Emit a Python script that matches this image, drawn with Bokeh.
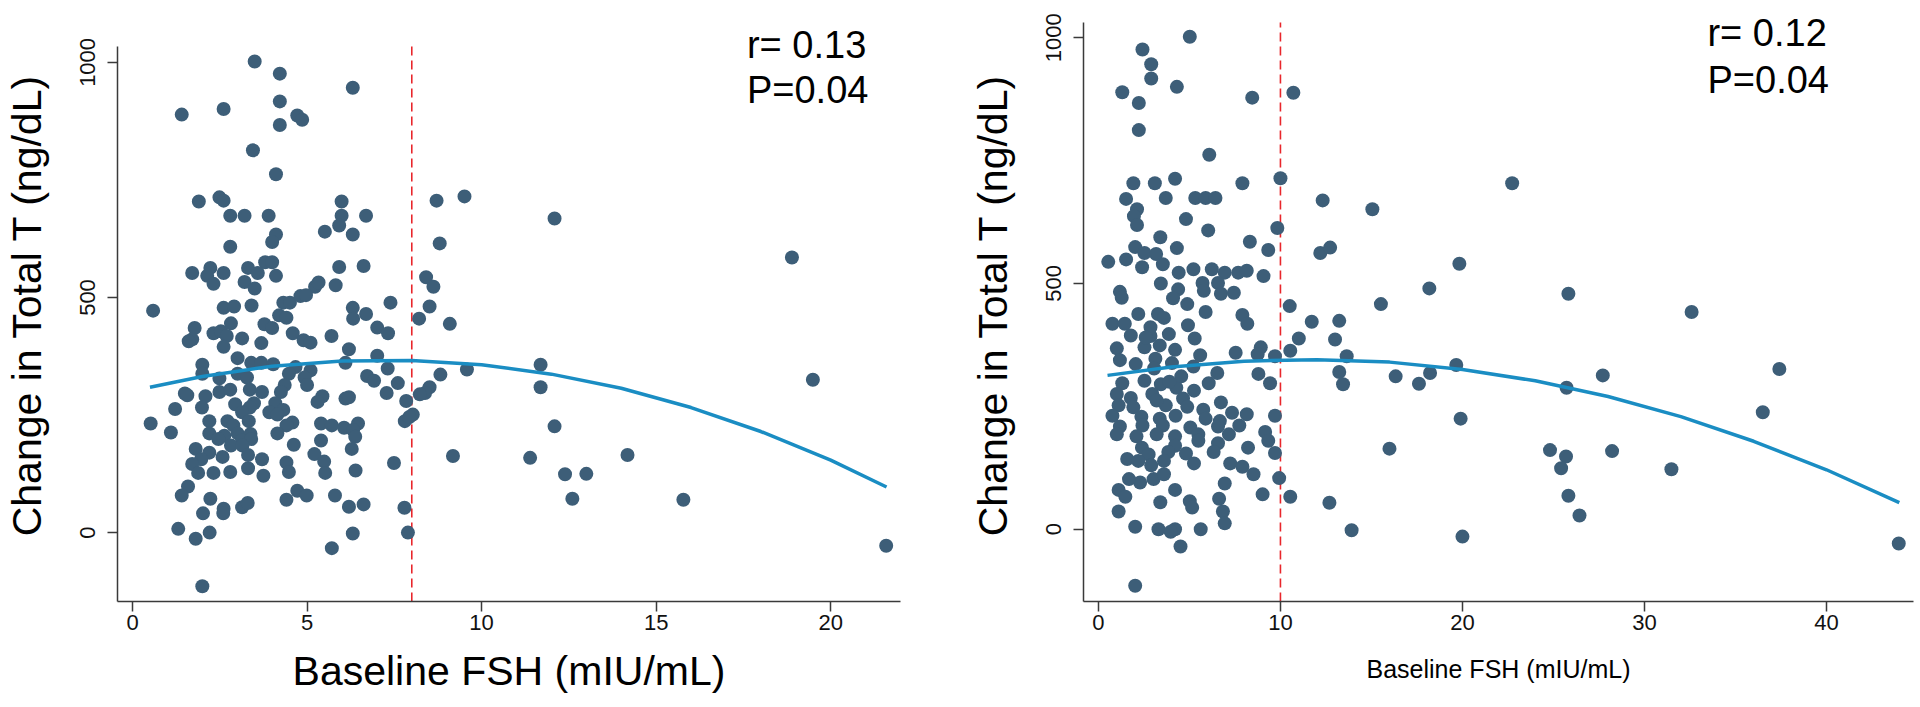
from bokeh.plotting import figure
from bokeh.models import Label, FixedTicker
from bokeh.layouts import row
from bokeh.embed import file_html
from bokeh.resources import INLINE

# ---------------- data ----------------
# Left panel: baseline FSH (mIU/mL) vs change in total T (ng/dL)
left_points = [
    (3.5, 1002), (4.22, 976), (6.31, 946), (1.41, 889), (2.61, 901), (4.22, 917), (4.72, 887), (4.86, 878),
    (4.22, 867), (3.45, 813), (4.11, 762), (1.90, 704), (2.49, 713), (2.61, 706), (5.99, 704), (8.71, 706),
    (9.51, 715), (2.80, 674), (3.21, 674), (3.90, 674), (5.99, 674), (6.69, 674), (12.09, 668), (5.92, 653),
    (5.51, 640), (6.31, 634), (4.11, 634), (4.0, 618), (8.80, 615), (2.80, 608), (18.89, 585), (3.80, 575),
    (4.0, 575), (3.31, 563), (2.23, 563), (1.71, 552), (2.61, 552), (3.59, 552), (4.11, 546), (5.92, 565),
    (6.62, 567), (2.14, 546), (2.32, 529), (3.21, 533), (3.5, 519), (5.23, 523), (5.33, 532), (5.82, 526),
    (8.41, 543), (8.62, 523), (0.59, 472), (2.61, 478), (2.91, 481), (3.41, 483), (4.32, 489), (4.51, 489),
    (4.81, 503), (4.97, 505), (6.31, 478), (6.69, 465), (7.39, 489), (8.51, 481), (8.21, 455), (9.09, 444),
    (4.20, 462), (4.41, 457), (6.32, 455), (7.01, 436), (7.32, 424), (1.78, 435), (1.71, 411), (1.61, 407),
    (2.32, 424), (2.53, 428), (2.82, 445), (2.70, 418), (3.14, 413), (3.78, 443), (4.0, 435), (4.59, 424),
    (4.90, 409), (5.10, 404), (5.70, 418), (3.69, 403), (2.61, 395), (6.20, 390), (3.01, 371), (7.01, 376),
    (6.10, 361), (7.31, 349), (9.58, 347), (11.69, 357), (3.40, 361), (3.69, 361), (4.03, 358), (4.67, 352),
    (5.10, 345), (2.0, 357), (2.0, 338), (3.01, 338), (3.28, 330), (2.49, 328), (4.48, 338), (4.93, 330),
    (6.72, 333), (6.92, 323), (8.82, 336), (7.60, 318), (19.49, 325), (11.69, 309), (4.36, 314), (5.0, 314),
    (2.49, 299), (2.80, 304), (3.36, 304), (3.71, 299), (4.25, 299), (7.28, 297), (1.50, 296), (1.57, 292),
    (2.09, 290), (5.44, 290), (6.10, 285), (6.20, 288), (8.51, 309), (8.38, 297), (8.23, 294), (7.84, 280),
    (2.94, 273), (3.48, 275), (4.09, 275), (5.30, 278), (1.99, 266), (1.22, 263), (3.36, 266), (4.32, 261),
    (3.14, 256), (3.92, 256), (8.03, 251), (4.15, 251), (0.52, 232), (2.20, 237), (2.72, 237), (3.33, 237),
    (4.58, 234), (5.40, 232), (5.71, 228), (6.46, 232), (7.80, 237), (7.93, 246), (4.41, 228), (2.89, 228),
    (12.09, 226), (1.10, 213), (2.20, 211), (2.63, 206), (3.01, 211), (3.38, 210), (4.15, 211), (6.06, 223),
    (6.32, 218), (6.38, 204), (2.46, 199), (3.14, 196), (3.40, 199), (5.40, 196), (2.82, 185), (3.15, 185),
    (4.62, 187), (6.28, 178), (1.81, 178), (2.20, 170), (1.97, 156), (1.71, 146), (2.58, 161), (3.31, 165),
    (5.21, 167), (9.18, 163), (11.39, 159), (14.18, 165), (3.71, 156), (7.49, 148), (4.41, 149), (5.49, 151),
    (1.88, 127), (2.32, 127), (2.80, 129), (3.31, 137), (4.48, 129), (5.52, 127), (6.39, 132), (3.75, 121),
    (12.39, 124), (13.0, 125), (1.59, 98), (1.41, 79), (2.23, 72), (4.72, 89), (4.99, 79), (5.80, 79),
    (4.41, 70), (12.60, 72), (15.78, 70), (3.14, 54), (3.30, 63), (2.61, 51), (2.60, 41), (6.20, 55),
    (6.62, 60), (7.79, 53), (2.02, 41), (1.31, 8), (2.21, 0), (1.81, -13), (6.31, -2), (7.89, 0),
    (5.71, -33), (21.59, -28), (2.0, -114),
]

# Right panel
right_points = [
    (5.02, 1002), (2.42, 976), (2.90, 946), (2.90, 917), (1.31, 889), (4.31, 900), (2.22, 867), (10.71, 888),
    (8.45, 878), (2.22, 812), (6.09, 762), (10.0, 714), (4.21, 713), (1.92, 704), (3.10, 704), (7.91, 704),
    (22.73, 704), (3.70, 674), (5.32, 674), (5.89, 674), (6.43, 674), (1.52, 672), (12.32, 669), (2.12, 651),
    (15.05, 651), (1.95, 637), (2.12, 619), (4.81, 631), (6.03, 608), (9.83, 613), (3.40, 594), (8.32, 585),
    (2.02, 574), (4.31, 572), (9.33, 568), (12.19, 562), (12.73, 573), (2.53, 562), (3.17, 560), (0.54, 544),
    (1.52, 549), (2.40, 533), (3.54, 539), (4.41, 522), (5.22, 529), (6.23, 529), (6.94, 522), (7.68, 522),
    (8.15, 526), (9.07, 515), (19.83, 540), (3.43, 500), (5.72, 501), (6.57, 501), (18.18, 490), (25.82, 479),
    (1.18, 483), (1.28, 471), (4.38, 488), (5.79, 485), (6.73, 479), (7.44, 481), (15.52, 458), (10.51, 454),
    (4.88, 458), (5.89, 442), (32.59, 442), (0.77, 418), (1.45, 418), (2.19, 438), (3.27, 438), (7.91, 436),
    (8.18, 418), (4.92, 415), (11.72, 422), (13.23, 424), (1.78, 394), (2.86, 393), (3.87, 397), (5.29, 388),
    (11.01, 388), (13.0, 386), (1.01, 368), (2.53, 370), (3.37, 374), (4.21, 365), (7.54, 359), (8.92, 370),
    (10.54, 363), (13.64, 352), (1.18, 344), (3.13, 347), (4.04, 338), (5.59, 354), (8.75, 356), (9.70, 352),
    (2.05, 336), (5.22, 331), (6.53, 318), (19.66, 334), (37.41, 326), (13.23, 320), (8.79, 316), (9.43, 297),
    (27.71, 313), (16.33, 311), (18.22, 318), (13.44, 295), (17.61, 296), (25.72, 288), (1.31, 297), (2.53, 302),
    (3.43, 295), (4.28, 288), (6.06, 297), (5.25, 282), (1.01, 275), (1.78, 267), (2.96, 275), (4.65, 266),
    (6.73, 258), (1.11, 252), (1.92, 248), (3.70, 252), (4.88, 249), (5.76, 243), (7.34, 237), (0.77, 231),
    (2.36, 229), (3.37, 225), (4.24, 231), (5.89, 225), (6.67, 220), (8.15, 234), (9.70, 231), (36.5, 238),
    (1.18, 209), (2.42, 211), (3.54, 211), (5.05, 207), (6.57, 209), (7.74, 211), (19.9, 225), (2.09, 189),
    (3.20, 193), (5.49, 193), (7.17, 193), (9.16, 198), (1.01, 193), (4.21, 189), (2.39, 166), (4.21, 170),
    (5.49, 180), (6.57, 175), (8.22, 166), (9.33, 180), (15.99, 164), (24.81, 161), (28.22, 159), (3.84, 157),
    (2.76, 152), (4.81, 154), (6.33, 157), (9.70, 155), (25.69, 148), (1.58, 143), (2.19, 139), (3.60, 139),
    (5.25, 134), (7.24, 134), (2.90, 130), (7.91, 127), (8.52, 112), (25.42, 124), (31.48, 122), (1.11, 80),
    (2.29, 95), (1.68, 102), (3.03, 102), (3.60, 112), (4.21, 80), (6.94, 93), (9.93, 104), (1.48, 66),
    (1.11, 36), (3.40, 55), (5.02, 57), (5.15, 44), (6.63, 62), (6.84, 36), (6.94, 12), (9.02, 71),
    (10.54, 66), (12.69, 54), (25.82, 68), (26.43, 28), (2.02, 5), (3.30, 0), (4.21, 0), (5.62, 0),
    (3.97, -5), (4.51, -35), (13.91, -2), (20.0, -15), (43.97, -29), (2.02, -115),
    (2.86, 411), (3.06, 327), (4.55, 311), (3.6, 430), (2.6, 390), (3.9, 300), (4.1, 470), (3.2, 262),
]

# Fitted quadratic curves
left_curve_x = [0.5, 2, 4, 6, 8, 10, 12, 14, 16, 18, 20, 21.6]
left_curve_y = [309, 332, 354, 365, 366, 357, 337, 307, 266, 215, 154, 97]
right_curve_x = [0.5, 4, 8, 12, 16, 20, 24, 28, 32, 36, 40, 44]
right_curve_y = [313, 330, 342, 345, 340, 325, 302, 270, 229, 179, 121, 54]

left_cutoff = 8
right_cutoff = 10
left_xticks = [0, 5, 10, 15, 20]
right_xticks = [0, 10, 20, 30, 40]
yticks = [0, 500, 1000]
left_stats = ["r= 0.13", "P=0.04"]
right_stats = ["r= 0.12", "P=0.04"]
x_title = "Baseline FSH (mIU/mL)"
y_title = "Change in Total T (ng/dL)"

# ---------------- styling ----------------
FONT = "Liberation Sans"
DOT = "#3d5e78"
CURVE = "#1a8dc3"
RED = "#e8262b"
AXIS = "#3a3a3a"


def panel(points, cx, cy, cut, width, xr, yr, ybounds, xticks, borders,
          xlab_size, xlab_standoff, stats, stats_xy):
    p = figure(width=width, height=705, x_range=xr, y_range=yr,
               output_backend="svg", toolbar_location=None,
               min_border_left=borders[0], min_border_right=borders[1],
               min_border_top=borders[2], min_border_bottom=borders[3])
    p.outline_line_color = None
    p.grid.visible = False
    p.background_fill_color = "white"

    # vertical dashed cut-off line spanning the plotted y-axis extent
    p.segment(x0=[cut], y0=[ybounds[0]], x1=[cut], y1=[ybounds[1]],
              line_color=RED, line_dash="9 5", line_width=1.6)
    xs = [pt[0] for pt in points]
    ys = [pt[1] for pt in points]
    p.scatter(xs, ys, size=14, fill_color=DOT, line_color=None)
    p.line(cx, cy, line_color=CURVE, line_width=3.5)

    for ax in (p.xaxis[0], p.yaxis[0]):
        ax.axis_line_color = AXIS
        ax.axis_line_width = 1.5
        ax.major_tick_line_color = AXIS
        ax.major_tick_line_width = 1.5
        ax.major_tick_out = 10
        ax.major_tick_in = 0
        ax.minor_tick_line_color = None
        ax.major_label_text_font = FONT
        ax.major_label_text_font_size = "22px"
        ax.major_label_text_color = "#111111"
        ax.axis_label_text_font = FONT
        ax.axis_label_text_font_style = "normal"
        ax.axis_label_text_color = "#000000"

    p.xaxis.ticker = FixedTicker(ticks=xticks)
    p.xaxis.major_label_standoff = 3
    p.xaxis.axis_label = x_title
    p.xaxis.axis_label_text_font_size = xlab_size
    p.xaxis.axis_label_standoff = xlab_standoff

    p.yaxis.ticker = FixedTicker(ticks=yticks)
    p.yaxis.bounds = ybounds
    p.yaxis.major_label_orientation = "vertical"
    p.yaxis.major_label_standoff = 12
    p.yaxis.axis_label = y_title
    p.yaxis.axis_label_text_font_size = "41px"
    p.yaxis.axis_label_standoff = 28

    sx, sy1, sy2 = stats_xy
    for txt, yy in zip(stats, (sy1, sy2)):
        p.add_layout(Label(x=sx, y=yy, text=txt, text_font=FONT, text_font_size="38px",
                           text_color="#000000", text_align="left", text_baseline="middle"))
    return p


p1 = panel(left_points, left_curve_x, left_curve_y, left_cutoff, 960,
           (-0.43, 22.0), (-146.5, 1114.6), (-146.5, 1034),
           left_xticks, (112, 60, 8, 103), "41px", 15, left_stats, (17.6, 1036, 940.5))
p2 = panel(right_points, right_curve_x, right_curve_y, right_cutoff, 958,
           (-0.82, 44.78), (-147, 1059.4), (-147, 1031),
           right_xticks, (123, 5, 2, 104), "25px", 22, right_stats, (33.46, 1009, 914))

layout = row(p1, p2)
open("out.html", "w").write(file_html(layout, INLINE))
